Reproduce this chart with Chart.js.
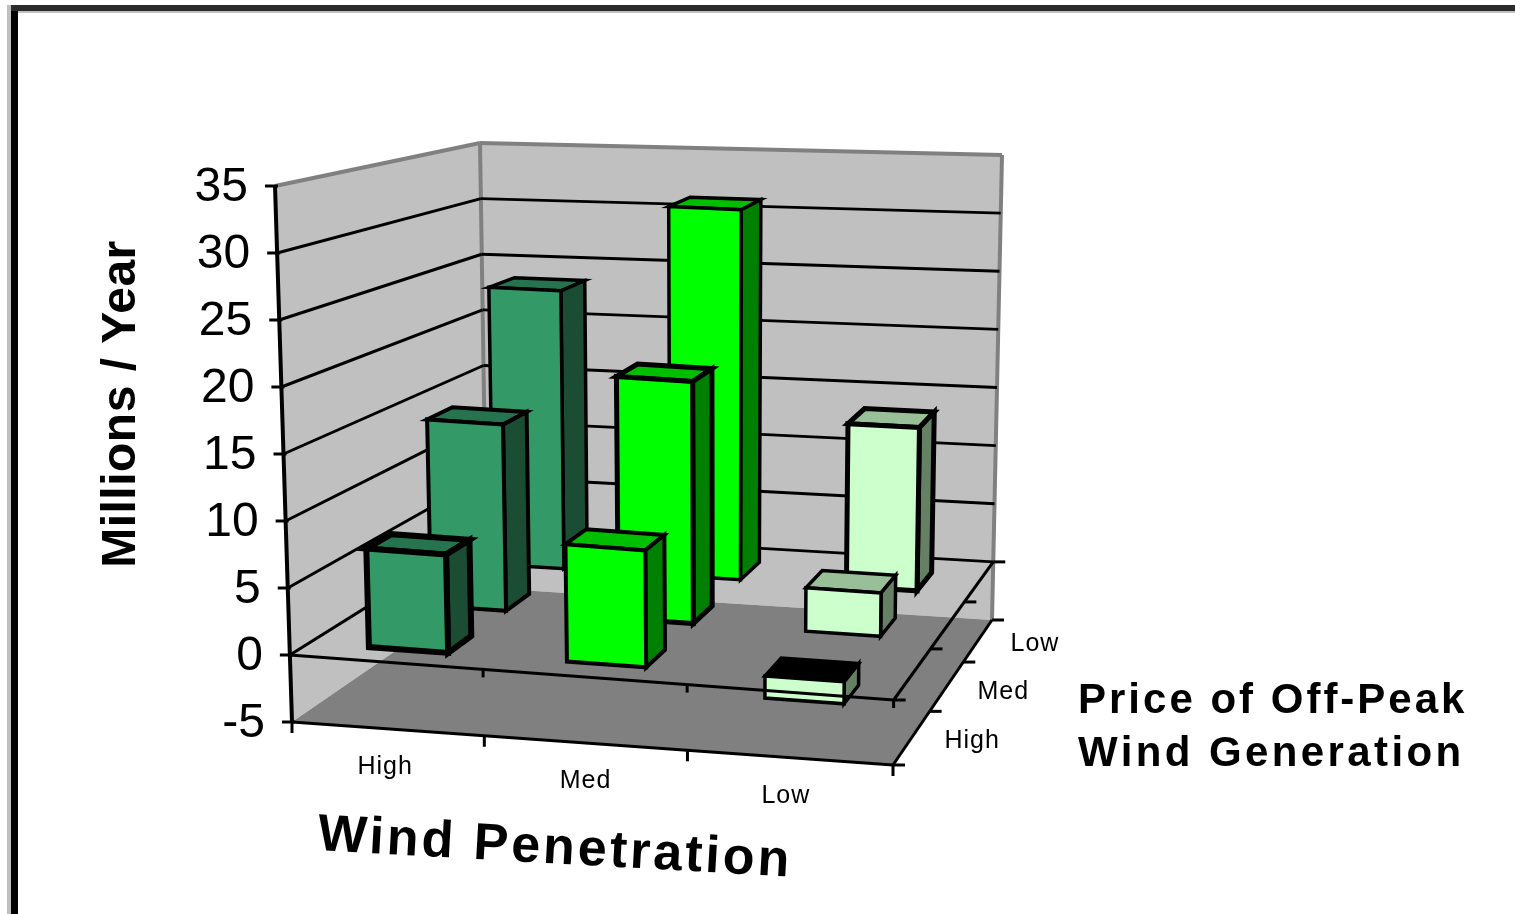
<!DOCTYPE html>
<html>
<head>
<meta charset="utf-8">
<title>Wind Penetration</title>
<style>
  html, body { margin: 0; padding: 0; background: #fff; }
  #chart-wrapper { position: relative; width: 1515px; height: 914px; overflow: hidden; }
</style>
</head>
<body>
<div id="chart-wrapper"><canvas id="chart"></canvas></div>
<script src="https://cdn.jsdelivr.net/npm/chart.js@4/dist/chart.umd.min.js"></script>
<script>
var windLabels = ['High', 'Med', 'Low'];
var priceLabels = ['High', 'Med', 'Low'];

// one list per price level, values follow windLabels
var priceHigh = [7.5, 9, -1.7];
var priceMed = [15, 19.5, 3.5];
var priceLow = [23.7, 31.3, 13.7];

var yAxisTitle = 'Millions / Year';
var xAxisTitle = 'Wind Penetration';
var depthAxisTitle = ['Price of Off-Peak', 'Wind Generation'];

// corners of the plot box on the page: f/b = front/back, l/r = left/right
var box = {
  flBottom: [292, 722], flTop: [275, 186],
  frBottom: [893, 765], frTop: [898, 245],
  blBottom: [487, 588], blTop: [480, 143],
  brBottom: [992, 620], brTop: [1002, 155]
};

// tick stops along the two floor edges, nearer divisions come out longer
var xTickStops = [0, 0.32, 0.658, 1];
var depthTickStops = [0, 0.37, 0.71, 1];

var barDepth = 0.4;
// face colours, one set per wind level
var windColors = [
  { front: '#339966', side: '#1a4d33', top: '#267350' },
  { front: '#00ff00', side: '#008000', top: '#00bf00' },
  { front: '#ccffcc', side: '#668066', top: '#99bf99' }
];
var outlineWidths = [
  [6, 4, 3.5],
  [4, 5, 3.5],
  [3.5, 3.5, 5]
];

function lerp(a, b, t) {
  return [a[0] + (b[0] - a[0]) * t, a[1] + (b[1] - a[1]) * t];
}

// u: left to right, v: front to back, h: axis minimum to maximum
function project(u, v, h) {
  var front = lerp(lerp(box.flBottom, box.flTop, h), lerp(box.frBottom, box.frTop, h), u);
  var back = lerp(lerp(box.blBottom, box.blTop, h), lerp(box.brBottom, box.brTop, h), u);
  return lerp(front, back, v);
}

function heightOf(scale, value) {
  return (scale.bottom - scale.getPixelForValue(value)) / (scale.bottom - scale.top);
}

function poly(ctx, pts, fill, stroke, width) {
  ctx.beginPath();
  pts.forEach(function(p, i) {
    if (i === 0) ctx.moveTo(p[0], p[1]);
    else ctx.lineTo(p[0], p[1]);
  });
  ctx.closePath();
  if (fill) {
    ctx.fillStyle = fill;
    ctx.fill();
  }
  if (stroke) {
    ctx.strokeStyle = stroke;
    ctx.lineWidth = width;
    ctx.stroke();
  }
}

function line(ctx, a, b, color, width) {
  ctx.beginPath();
  ctx.moveTo(a[0], a[1]);
  ctx.lineTo(b[0], b[1]);
  ctx.strokeStyle = color;
  ctx.lineWidth = width;
  ctx.stroke();
}

function label(ctx, text, x, y, font, align, angle, spacing) {
  ctx.save();
  ctx.translate(x, y);
  ctx.rotate(angle * Math.PI / 180);
  ctx.font = font;
  ctx.letterSpacing = spacing + 'px';
  ctx.fillStyle = '#000';
  ctx.textAlign = align;
  ctx.textBaseline = 'middle';
  ctx.fillText(text, 0, 0);
  ctx.restore();
}

function drawFrame(ctx) {
  ctx.fillStyle = '#c0c0c0';
  ctx.fillRect(7, 5, 4, 909);
  ctx.fillRect(18, 11, 1497, 2);
  ctx.fillStyle = '#2b2b2b';
  ctx.fillRect(11, 5, 1504, 6);
  ctx.fillStyle = '#000';
  ctx.fillRect(11, 11, 7, 903);
}

function drawWalls(ctx, yScale) {
  poly(ctx, [box.flBottom, box.flTop, box.blTop, box.blBottom], '#c0c0c0');
  poly(ctx, [box.blBottom, box.blTop, box.brTop, box.brBottom], '#c0c0c0');
  poly(ctx, [box.flBottom, box.frBottom, box.brBottom, box.blBottom], '#808080');

  line(ctx, box.flTop, box.blTop, '#808080', 4);
  line(ctx, box.blTop, box.brTop, '#808080', 4);
  line(ctx, box.blTop, box.blBottom, '#808080', 4);
  line(ctx, box.brTop, box.brBottom, '#808080', 4);

  // gridlines run along both walls; the axis minimum sits on the floor
  yScale.ticks.forEach(function(tick) {
    if (tick.value === yScale.min || tick.value === yScale.max) return;
    var h = heightOf(yScale, tick.value);
    var corner = project(0, 1, h);
    line(ctx, project(0, 0, h), corner, '#000', 3);
    line(ctx, corner, project(1, 1, h), '#000', 3);
  });
}

function drawBar(ctx, chart, rowIndex, colIndex) {
  var meta = chart.getDatasetMeta(rowIndex);
  var bar = meta.data[colIndex];
  var xScale = chart.scales.x;
  var yScale = chart.scales.y;
  var value = chart.data.datasets[rowIndex].data[colIndex];
  var colors = windColors[colIndex];

  var span = xScale.right - xScale.left;
  var u0 = (bar.x - bar.width / 2 - xScale.left) / span;
  var u1 = (bar.x + bar.width / 2 - xScale.left) / span;
  var vMid = (rowIndex + 0.5) / priceLabels.length;
  var v0 = vMid - barDepth / priceLabels.length / 2;
  var v1 = vMid + barDepth / priceLabels.length / 2;

  var hTop = heightOf(yScale, Math.max(value, 0));
  var hBottom = heightOf(yScale, Math.min(value, 0));
  var width = outlineWidths[colIndex][rowIndex];

  ctx.lineJoin = 'miter';
  // the upper face of a bar below zero is seen from the dark side
  poly(ctx, [project(u0, v0, hTop), project(u1, v0, hTop), project(u1, v1, hTop), project(u0, v1, hTop)],
    value < 0 ? '#000' : colors.top, '#000', width);
  poly(ctx, [project(u1, v0, hTop), project(u1, v1, hTop), project(u1, v1, hBottom), project(u1, v0, hBottom)],
    colors.side, '#000', width);
  poly(ctx, [project(u0, v0, hTop), project(u1, v0, hTop), project(u1, v0, hBottom), project(u0, v0, hBottom)],
    colors.front, '#000', width);
}

function drawAxes(ctx, yScale) {
  var zero = heightOf(yScale, 0);

  // upright edge with its value ticks and labels
  line(ctx, box.flBottom, box.flTop, '#000', 4);
  yScale.ticks.forEach(function(tick) {
    var p = project(0, 0, heightOf(yScale, tick.value));
    line(ctx, [p[0] - 10, p[1]], [p[0] + 3, p[1]], '#000', 3);
    label(ctx, String(tick.value), p[0] - 27, p[1] + 2, '48px "Liberation Sans"', 'right', 0, 0);
  });

  // front edges on the floor and on the zero plane
  line(ctx, project(0, 0, 0), project(1, 0, 0), '#000', 3);
  line(ctx, project(0, 0, zero), project(1, 0, zero), '#000', 3);
  xTickStops.forEach(function(u, i) {
    var a = project(u, 0, 0);
    var b = project(u, 0, zero);
    line(ctx, a, [a[0], a[1] + 11], '#000', 3);
    if (i > 0) line(ctx, b, [b[0], b[1] + 8], '#000', 3);
  });

  // depth edges on the right, same two levels
  line(ctx, project(1, 0, 0), project(1, 1, 0), '#000', 3);
  line(ctx, project(1, 0, zero), project(1, 1, zero), '#000', 3);
  depthTickStops.forEach(function(v) {
    var c = project(1, v, 0);
    var d = project(1, v, zero);
    line(ctx, c, [c[0] + 12, c[1]], '#000', 3);
    line(ctx, d, [d[0] + 12, d[1]], '#000', 3);
  });
}

function drawLabels(ctx, chart) {
  var xScale = chart.scales.x;
  var span = xScale.right - xScale.left;
  var small = '25px "Liberation Sans"';

  windLabels.forEach(function(text, i) {
    var u = (xScale.getPixelForTick(i) - xScale.left) / span;
    var p = project(u, 0, 0);
    label(ctx, text, p[0] - 7, p[1] + 38, small, 'center', 0, 1);
  });
  priceLabels.forEach(function(text, i) {
    var p = project(1, (i + 0.5) / priceLabels.length, 0);
    label(ctx, text, p[0] + 35, p[1], small, 'left', 0, 1);
  });

  label(ctx, yAxisTitle, 122, 404, 'bold 48px "Liberation Sans"', 'center', -90, 0.5);
  label(ctx, xAxisTitle, 555, 849, 'bold 52px "Liberation Sans"', 'center', 3.2, 3);
  label(ctx, depthAxisTitle[0], 1078, 701, 'bold 42px "Liberation Sans"', 'left', 0, 3);
  label(ctx, depthAxisTitle[1], 1078, 754, 'bold 42px "Liberation Sans"', 'left', 0, 3.4);
}

// The datasets keep their bars transparent; this plugin draws them as boxes
// from the laid-out bar elements.
var boxPlugin = {
  id: 'box3d',
  beforeDatasetsDraw: function(chart) {
    var ctx = chart.ctx;
    ctx.save();
    drawFrame(ctx);
    drawWalls(ctx, chart.scales.y);
    ctx.restore();
  },
  afterDatasetsDraw: function(chart) {
    var ctx = chart.ctx;
    ctx.save();
    for (var row = priceLabels.length - 1; row >= 0; row--) {
      for (var col = 0; col < windLabels.length; col++) {
        drawBar(ctx, chart, row, col);
      }
    }
    drawAxes(ctx, chart.scales.y);
    drawLabels(ctx, chart);
    ctx.restore();
  }
};

var data = {
  labels: windLabels,
  datasets: [
    { label: priceLabels[0], data: priceHigh },
    { label: priceLabels[1], data: priceMed },
    { label: priceLabels[2], data: priceLow }
  ]
};

var ctx = document.getElementById('chart');
var chart = new Chart(ctx, {
  type: 'bar',
  data: data,
  plugins: [boxPlugin],
  options: {
    responsive: true,
    maintainAspectRatio: false,
    animation: false,
    layout: {
      padding: { left: 292, right: 622, top: 186, bottom: 192 }
    },
    datasets: {
      bar: {
        grouped: false,
        barPercentage: barDepth,
        categoryPercentage: 1,
        borderWidth: 0
      }
    },
    elements: {
      bar: { backgroundColor: 'rgba(0, 0, 0, 0)' }
    },
    plugins: {
      colors: { enabled: false },
      legend: { display: false },
      tooltip: { enabled: false }
    },
    scales: {
      x: { display: false },
      y: {
        display: false,
        min: -5,
        max: 35,
        ticks: { stepSize: 5 }
      }
    }
  }
});
</script>
</body>
</html>
